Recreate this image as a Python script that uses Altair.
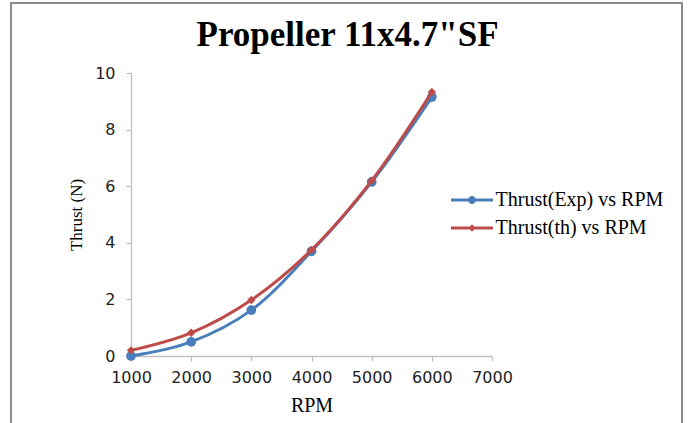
import altair as alt
import pandas as pd

# ---- data ----
rpm = [1000, 2000, 3000, 4000, 5000, 6000]
thrust_exp = [0.0, 0.5, 1.62, 3.7, 6.15, 9.15]
thrust_th = [0.2, 0.82, 1.98, 3.75, 6.2, 9.33]
series_names = ["Thrust(Exp) vs RPM", "Thrust(th) vs RPM"]
series_colors = ["#4a7ebb", "#be4b48"]
x_ticks = [1000, 2000, 3000, 4000, 5000, 6000, 7000]
y_ticks = [0, 2, 4, 6, 8, 10]
title_text = 'Propeller 11x4.7"SF'

df = pd.DataFrame({
    "RPM": rpm + rpm,
    "Thrust": thrust_exp + thrust_th,
    "series": [series_names[0]] * len(rpm) + [series_names[1]] * len(rpm),
})

AXIS_GRAY = "#bfbfbf"
W, H = 361, 283

x_enc = alt.X(
    "RPM:Q",
    scale=alt.Scale(domain=[1000, 7000], nice=False, zero=False),
    axis=alt.Axis(values=x_ticks, format="d", title="RPM", grid=False,
                  labelFlush=False, labelOverlap=False,
                  domainColor=AXIS_GRAY, tickColor=AXIS_GRAY, domainWidth=1.3,
                  tickWidth=1.3, tickSize=5, labelPadding=8,
                  labelFont="DejaVu Sans", labelFontSize=16, labelColor="#222222",
                  titleFont="Liberation Serif", titleFontSize=20,
                  titleFontWeight="normal", titleColor="#000000", titlePadding=10),
)
y_enc = alt.Y(
    "Thrust:Q",
    scale=alt.Scale(domain=[0, 10], nice=False),
    axis=alt.Axis(values=y_ticks, title="Thrust (N)", grid=False,
                  labelFlush=False, labelOverlap=False,
                  domainColor=AXIS_GRAY, tickColor=AXIS_GRAY, domainWidth=1.3,
                  tickWidth=1.3, tickSize=5, labelPadding=11,
                  labelFont="DejaVu Sans", labelFontSize=16, labelColor="#222222",
                  titleFont="Liberation Serif", titleFontSize=17,
                  titleFontWeight="normal", titleColor="#000000", titlePadding=9),
)


def series_layers(name, color, shape, size):
    base = alt.Chart(df).transform_filter(alt.datum.series == name)
    line = base.mark_line(interpolate="catmull-rom", strokeWidth=3, color=color).encode(
        x=x_enc, y=y_enc)
    pts = base.mark_point(shape=shape, filled=True, size=size, opacity=1, color=color).encode(
        x=x_enc, y=y_enc)
    return line, pts


line_exp, pts_exp = series_layers(series_names[0], series_colors[0], "circle", 95)
line_th, pts_th = series_layers(series_names[1], series_colors[1], "diamond", 70)

# legend-only layer (no marks drawn): line + marker symbols
path_exp = ("M-3,-0.21L3,-0.21L3,0.21L-3,0.21Z"
            "M-0.57,0A0.57,0.57,0,1,1,0.57,0A0.57,0.57,0,1,1,-0.57,0Z")
path_th = ("M-3,-0.21L3,-0.21L3,0.21L-3,0.21Z"
           "M0,-0.52L0.52,0L0,0.52L-0.52,0Z")
legend_props = dict(
    title=None, orient="none", legendX=331, legendY=117,
    labelFont="Liberation Serif", labelFontSize=20, labelColor="#000000",
    symbolSize=196, labelOffset=13.5, rowPadding=8, padding=0,
    symbolStrokeWidth=0, symbolOpacity=1, labelLimit=400,
)
legend_layer = alt.Chart(df).transform_filter("false").mark_point(
    filled=True, size=196, opacity=1
).encode(
    x=x_enc, y=y_enc,
    color=alt.Color("series:N", scale=alt.Scale(domain=series_names, range=series_colors),
                    legend=alt.Legend(**legend_props)),
    shape=alt.Shape("series:N", scale=alt.Scale(domain=series_names, range=[path_exp, path_th]),
                    legend=alt.Legend(**legend_props)),
)

frame = alt.Chart(pd.DataFrame({"f": [0]})).mark_rect(
    fill=None, stroke="#8c8c8c", strokeWidth=2
).encode(
    x=alt.value(-120), x2=alt.value(551), y=alt.value(-70), y2=alt.value(362)
)

chart = alt.layer(frame, line_exp, pts_exp, line_th, pts_th, legend_layer).properties(
    width=W, height=H,
    title=alt.TitleParams(title_text, font="Liberation Serif", fontSize=35,
                          fontWeight="bold", anchor="middle", frame="group",
                          baseline="bottom", dx=36, offset=-86, color="#000000"),
    autosize=alt.AutoSizeParams(type="none"),
    padding={"left": 131, "top": 73, "right": 689 - 131 - W, "bottom": 423 - 73 - H},
    background="#ffffff",
).configure_view(stroke=None)

chart.save("out.html", embed_options={"renderer": "svg", "actions": False})
